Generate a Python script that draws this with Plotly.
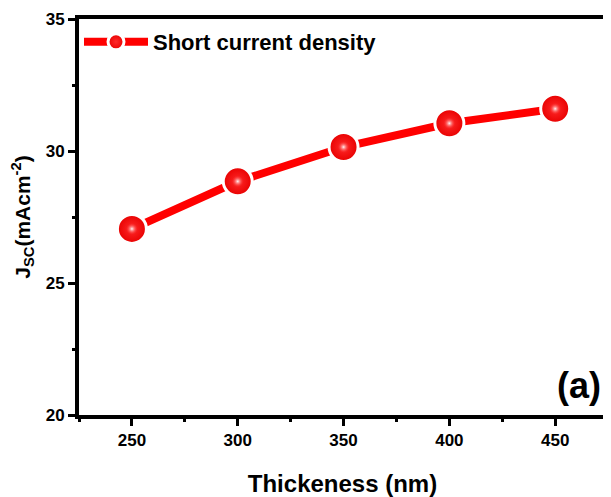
import plotly.graph_objects as go

thickness = [250, 300, 350, 400, 450]
jsc = [27.05, 28.85, 30.15, 31.05, 31.6]
x_ticks = [250, 300, 350, 400, 450]
y_ticks = [20, 25, 30, 35]

FONT = "Arial, 'Liberation Sans', sans-serif"

fig = go.Figure()
fig.add_trace(go.Scatter(
    x=thickness, y=jsc, mode="lines+markers", name="Short current density",
    line=dict(color="#ff0000", width=8),
    marker=dict(size=29, color="#e80000", line=dict(color="white", width=3),
                gradient=dict(type="radial", color="#ff2a2a")),
))
fig.add_trace(go.Scatter(
    x=thickness, y=jsc, mode="markers", showlegend=False, hoverinfo="skip",
    marker=dict(size=12, color="rgba(255,40,40,0)", line=dict(width=0),
                gradient=dict(type="radial", color="rgba(255,255,255,0.95)")),
))

axis_common = dict(
    showline=True, linecolor="black", linewidth=4, mirror=True,
    ticks="outside", ticklen=7, tickwidth=3, tickcolor="black",
    showgrid=False, zeroline=False,
    tickfont=dict(family=FONT, size=17, color="black", weight="bold"),
    minor=dict(ticks="outside", ticklen=3, tickwidth=3, tickcolor="black"),
)

fig.update_xaxes(
    range=[225, 474], tickvals=x_ticks, **axis_common,
    title=dict(text="Thickeness (nm)", font=dict(family=FONT, size=24, color="black", weight="bold"), standoff=28),
)
fig.update_xaxes(minor_dtick=50, minor_tick0=275)
fig.update_yaxes(
    range=[20, 35], tickvals=y_ticks, **axis_common,
    title=dict(text="J<sub>SC</sub>(mAcm<sup>-2</sup>)", font=dict(family=FONT, size=21, color="black", weight="bold"), standoff=22),
)
fig.update_yaxes(minor_dtick=2.5, minor_tick0=20)

fig.add_annotation(x=0.994, y=0.075, xref="paper", yref="paper", xanchor="right", yanchor="middle",
                   text="(a)", showarrow=False,
                   font=dict(family=FONT, size=36, color="black", weight="bold"))

fig.update_layout(
    width=603, height=489,
    margin=dict(l=69, r=1, t=11, b=82),
    plot_bgcolor="white", paper_bgcolor="white",
    legend=dict(x=0.0, y=0.995, xanchor="left", yanchor="top", bgcolor="rgba(0,0,0,0)",
                font=dict(family=FONT, size=22, color="black", weight="bold"), itemwidth=64),
    showlegend=True,
)

fig.write_html("out.html")
